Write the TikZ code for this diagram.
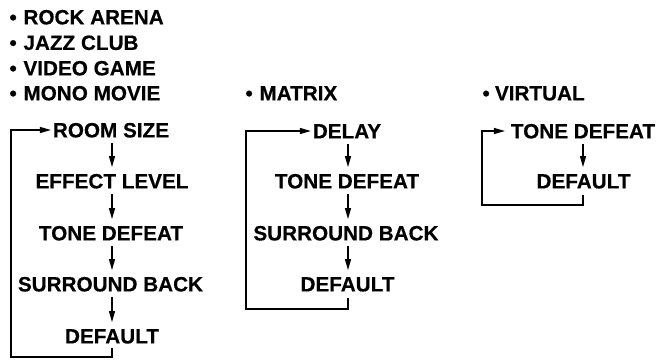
\documentclass[tikz,border=0pt]{standalone}
\usepackage{fontspec}
\setmainfont{Liberation Sans}[BoldFeatures={FakeBold=0.4}]
\usetikzlibrary{arrows.meta}
\newcommand{\bul}[1]{\makebox[#1][l]{•}}
\tikzset{
  lbl/.style={inner sep=0pt, outer sep=0pt, text height=14.8pt, text depth=0pt,
              font=\fontsize{20.7}{24}\selectfont\bfseries},
  hdr/.style={lbl, anchor=west},
  arr/.style={line width=1.2pt, -{Triangle[length=11pt,width=6pt]}},
  ln/.style={line width=1.2pt}
}
\begin{document}
\begin{tikzpicture}[x=1pt,y=-1pt]
\useasboundingbox (0,0) rectangle (660,360);
% headers
\node[hdr] (h1) at (9.5,17) {\bul{14pt}ROCK ARENA};
\node[hdr] (h2) at (9.5,42.5) {\bul{14pt}JAZZ CLUB};
\node[hdr] (h3) at (9.5,68) {\bul{14pt}VIDEO GAME};
\node[hdr] (h4) at (9.5,93) {\bul{14pt}MONO MOVIE};
\node[hdr] (hm) at (245.5,93) {\bul{14pt}MATRIX};
\node[hdr] (hv) at (482.5,93) {\bul{12.5pt}VIRTUAL};
% left chain
\node[lbl] (r1) at (111,130) {ROOM SIZE};
\node[lbl] (r2) at (112,181) {EFFECT LEVEL};
\node[lbl] (r3) at (111,233) {TONE DEFEAT};
\node[lbl] (r4) at (110.5,284) {SURROUND BACK};
\node[lbl] (r5) at (112,336) {DEFAULT};
\coordinate (ra) at (112,0);
\foreach \a/\b in {r1/r2,r2/r3,r3/r4,r4/r5}
  \draw[arr] ([yshift=-5.5pt]\a.south -| ra) -- ([yshift=6.5pt]\b.north -| ra);
\coordinate (rl) at (11,357);
\draw[arr] ([yshift=-4.5pt]r5.south -| ra) |- (rl) |- ([xshift=-2pt]r1.west);
% middle chain
\node[lbl] (d1) at (347,131) {DELAY};
\node[lbl] (d2) at (347,181) {TONE DEFEAT};
\node[lbl] (d3) at (346,233) {SURROUND BACK};
\node[lbl] (d4) at (347.5,284) {DEFAULT};
\coordinate (da) at (348,0);
\foreach \a/\b in {d1/d2,d2/d3,d3/d4}
  \draw[arr] ([yshift=-5.5pt]\a.south -| da) -- ([yshift=6.5pt]\b.north -| da);
\coordinate (dl) at (246,309);
\draw[arr] ([yshift=-6.5pt]d4.south -| da) |- (dl) |- ([xshift=-2pt]d1.west);
% right chain
\node[lbl] (v1) at (583,131) {TONE DEFEAT};
\node[lbl] (v2) at (583.5,181) {DEFAULT};
\coordinate (va) at (583,0);
\draw[arr] ([yshift=-5.5pt]v1.south -| va) -- ([yshift=6.5pt]v2.north -| va);
\coordinate (vl) at (482,205);
\draw[arr] ([yshift=-6.5pt]v2.south -| va) |- (vl) |- ([xshift=-6pt]v1.west);
\end{tikzpicture}
\end{document}
